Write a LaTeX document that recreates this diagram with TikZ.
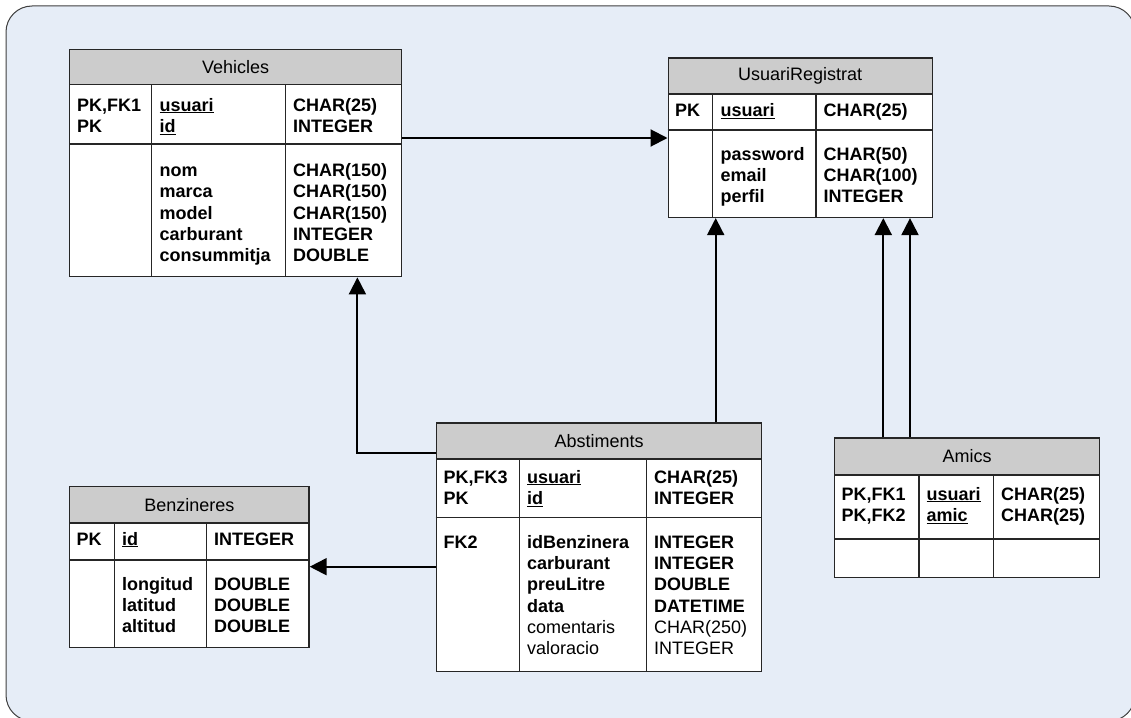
\documentclass[tikz,border=0pt]{standalone}
\usepackage{fontspec}
\setmainfont{Liberation Sans}
\usetikzlibrary{arrows.meta}
\definecolor{bgblue}{RGB}{230,237,247}
\definecolor{hdrgray}{RGB}{204,204,204}
\begin{document}
\begin{tikzpicture}[x=1pt,y=-1pt,
    tbl/.style={draw=black!85,line width=1.4pt,fill=white,inner sep=0pt,anchor=north west},
    hdr/.style={draw=black!85,line width=1.4pt,fill=hdrgray,inner sep=0pt,anchor=north west,
      font=\fontsize{18}{21}\selectfont},
    sep/.style={draw=black!85,line width=1.4pt},
    fld/.style={anchor=base west,inner sep=0pt,align=left,text width=110pt,
      font=\fontsize{18}{21.3}\selectfont\bfseries},
    fk/.style={line width=2pt,-{Triangle[length=17pt,width=17pt]}}]
  \useasboundingbox (0,0) rectangle (1131,717);
  \draw [draw=black!75,fill=bgblue,rounded corners=26pt,line width=1pt] (6,6) rectangle (1135,721);

  % Vehicles
  \node [tbl,minimum width=332pt,minimum height=227pt] (vehicles) at (69,49) {};
  \node [hdr,minimum width=332pt,minimum height=35pt] (vehicles-h) at (69,49) {Vehicles};
  \draw [sep] (69,144) -- (401,144);
  \draw [sep] (151.5,84) -- (151.5,276);
  \draw [sep] (285.5,84) -- (285.5,276);
  \node [fld] (vehicles-k1) at (77,111) {PK,FK1\\PK};
  \node [fld] (vehicles-n1) at (159.5,111) {\underline{usuari}\\\underline{id}};
  \node [fld] (vehicles-t1) at (293,111) {CHAR(25)\\INTEGER};
  \node [fld] (vehicles-n2) at (159.5,176.5) {nom\\marca\\model\\carburant\\consummitja};
  \node [fld] (vehicles-t2) at (293,176.5) {CHAR(150)\\CHAR(150)\\CHAR(150)\\INTEGER\\DOUBLE};

  % UsuariRegistrat
  \node [tbl,minimum width=264pt,minimum height=159.2pt] (usuari) at (667.5,57.5) {};
  \node [hdr,minimum width=264pt,minimum height=35.8pt] (usuari-h) at (667.5,57.5) {UsuariRegistrat};
  \draw [sep] (667.5,130) -- (931.5,130);
  \draw [sep] (712.7,93.3) -- (712.7,216.7);
  \draw [sep] (816,93.3) -- (816,216.7);
  \node [fld] (usuari-k1) at (675,116.5) {PK};
  \node [fld] (usuari-n1) at (720.5,116.5) {\underline{usuari}};
  \node [fld] (usuari-t1) at (823.5,116.5) {CHAR(25)};
  \node [fld] (usuari-n2) at (720.5,160) {password\\email\\perfil};
  \node [fld] (usuari-t2) at (823.5,160) {CHAR(50)\\CHAR(100)\\INTEGER};

  % Abstiments
  \node [tbl,minimum width=325.3pt,minimum height=248.7pt] (abst) at (435.7,422.3) {};
  \node [hdr,minimum width=325.3pt,minimum height=36pt] (abst-h) at (435.7,422.3) {Abstiments};
  \draw [sep] (435.7,517.3) -- (761,517.3);
  \draw [sep] (519.3,458.3) -- (519.3,671);
  \draw [sep] (646.7,458.3) -- (646.7,671);
  \node [fld] (abst-k1) at (443.5,483) {PK,FK3\\PK};
  \node [fld] (abst-n1) at (527,483) {\underline{usuari}\\\underline{id}};
  \node [fld] (abst-t1) at (654,483) {CHAR(25)\\INTEGER};
  \node [fld] (abst-k2) at (443.5,548.3) {FK2};
  \node [fld] (abst-n2) at (527,548.3) {idBenzinera\\carburant\\preuLitre\\data\\\mdseries comentaris\\valoracio};
  \node [fld] (abst-t2) at (654,548.3) {INTEGER\\INTEGER\\DOUBLE\\DATETIME\\\mdseries CHAR(250)\\INTEGER};

  % Benzineres
  \node [tbl,minimum width=239.3pt,minimum height=161pt] (benz) at (69,485.7) {};
  \node [hdr,minimum width=239.3pt,minimum height=36.6pt] (benz-h) at (69,485.7) {Benzineres};
  \draw [sep] (69,560) -- (308.3,560);
  \draw [sep] (114.3,522.3) -- (114.3,646.7);
  \draw [sep] (206.7,522.3) -- (206.7,646.7);
  \node [fld] (benz-k1) at (76.5,545) {PK};
  \node [fld] (benz-n1) at (122,545) {\underline{id}};
  \node [fld] (benz-t1) at (214,545) {INTEGER};
  \node [fld] (benz-n2) at (122,590) {longitud\\latitud\\altitud};
  \node [fld] (benz-t2) at (214,590) {DOUBLE\\DOUBLE\\DOUBLE};

  % Amics
  \node [tbl,minimum width=265pt,minimum height=139.4pt] (amics) at (834,437.3) {};
  \node [hdr,minimum width=265pt,minimum height=37pt] (amics-h) at (834,437.3) {Amics};
  \draw [sep] (834,539) -- (1099,539);
  \draw [sep] (919,474.3) -- (919,576.7);
  \draw [sep] (993.3,474.3) -- (993.3,576.7);
  \node [fld] (amics-k1) at (841.5,500) {PK,FK1\\PK,FK2};
  \node [fld] (amics-n1) at (926.5,500) {\underline{usuari}\\\underline{amic}};
  \node [fld] (amics-t1) at (1001,500) {CHAR(25)\\CHAR(25)};

  % relacions
  \draw [fk] ([yshift=-89pt]vehicles.north east) -- ([yshift=-89pt]vehicles.north east -| usuari.west);
  \draw [fk] ([yshift=-31pt]abst.north west) -| ([xshift=-45pt]vehicles.south east);
  \draw [fk] ([xshift=-46.7pt]abst.north east) -- ([xshift=-46.7pt]abst.north east |- usuari.south);
  \draw [fk] ([yshift=-144.4pt]abst.north west) -- ([yshift=-144.4pt]abst.north west -| benz.east);
  \draw [fk] ([xshift=49.3pt]amics.north west) -- ([xshift=49.3pt]amics.north west |- usuari.south);
  \draw [fk] ([xshift=76pt]amics.north west) -- ([xshift=76pt]amics.north west |- usuari.south);
\end{tikzpicture}
\end{document}
